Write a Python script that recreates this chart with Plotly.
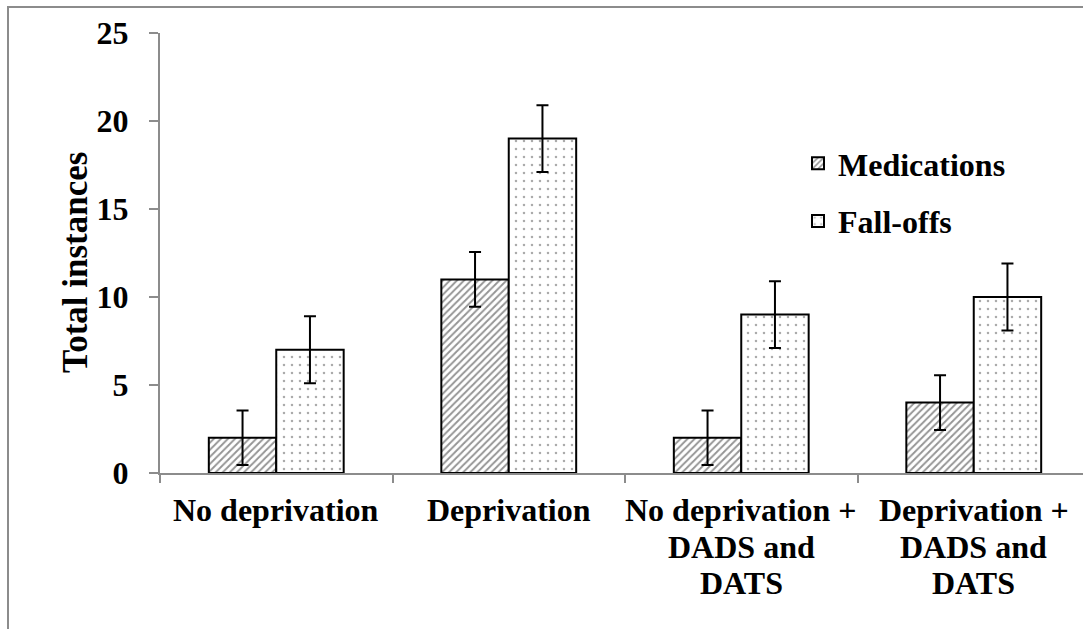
import plotly.graph_objects as go

categories = ["No deprivation", "Deprivation", "No deprivation +<br>DADS and<br>DATS", "Deprivation +<br>DADS and<br>DATS"]
medications = [2, 11, 2, 4]
medications_err = [1.55, 1.55, 1.55, 1.55]
falloffs = [7, 19, 9, 10]
falloffs_err = [1.9, 1.9, 1.9, 1.9]
y_ticks = [0, 5, 10, 15, 20, 25]

W, H = 1083, 629
L, R, T, B = 160, 1083, 33, 473  # plot area pixels


def px(x):
    return (x - L) / (R - L)


def py(y):
    return (B - y) / (B - T)


FONT = "Liberation Serif"
FS = 32

fig = go.Figure()
fig.add_trace(go.Bar(
    name="<b>Medications</b>", x=list(range(len(categories))), y=medications,
    error_y=dict(type="data", array=medications_err, color="black", thickness=2, width=6),
    marker=dict(color="white", line=dict(color="black", width=2),
                pattern=dict(shape="/", fgcolor="#2a2a2a", bgcolor="white", size=5, solidity=0.38)),
    legendgroup="a",
))
fig.add_trace(go.Bar(
    name="<b>Fall-offs</b>", x=list(range(len(categories))), y=falloffs,
    error_y=dict(type="data", array=falloffs_err, color="black", thickness=2, width=6),
    marker=dict(color="white", line=dict(color="black", width=2),
                pattern=dict(shape=".", fgcolor="#555555", bgcolor="white", size=8, solidity=0.08)),
    legendgroup="b",
))

fig.add_shape(type="rect", xref="paper", yref="paper",
              x0=px(8), x1=px(1095), y0=py(640), y1=py(7),
              line=dict(color="#8c8c8c", width=2), layer="below")

# x category labels, one annotation per line
line_centers = [510, 547, 583]
for i, cat in enumerate(categories):
    for j, line in enumerate(cat.split("<br>")):
        fig.add_annotation(x=i, xref="x", y=py(line_centers[j]), yref="paper",
                           text="<b>%s</b>" % line, showarrow=False,
                           xanchor="center", yanchor="middle",
                           font=dict(family=FONT, size=FS, color="black"))

# y-axis title
fig.add_annotation(x=px(75), xref="paper", y=py(263), yref="paper",
                   text="<b>Total instances</b>", textangle=-90, showarrow=False,
                   xanchor="center", yanchor="middle",
                   font=dict(family=FONT, size=35, color="black"))

fig.update_layout(
    width=W, height=H,
    margin=dict(l=L, r=W - R, t=T, b=H - B, pad=0),
    paper_bgcolor="white", plot_bgcolor="white",
    barmode="group", bargap=0.42, bargroupgap=0,
    font=dict(family=FONT, size=FS, color="black"),
    showlegend=True,
    legend=dict(x=px(798), y=py(136), xanchor="left", yanchor="top",
                font=dict(family=FONT, size=FS, color="black"),
                bgcolor="rgba(0,0,0,0)", traceorder="grouped", tracegroupgap=13,
                itemwidth=30),
    xaxis=dict(
        range=[-0.5, 3.5 - 7 / 232.5],
        showline=True, linecolor="#8c8c8c", linewidth=2,
        ticks="outside", ticklen=8, tickcolor="#8c8c8c", tickwidth=2,
        tickvals=[-0.5, 0.5, 1.5, 2.5], showticklabels=False,
        showgrid=False, zeroline=False,
    ),
    yaxis=dict(
        range=[0, 25], tickvals=y_ticks,
        ticktext=["<b>%d</b>" % v for v in y_ticks],
        showline=True, linecolor="#8c8c8c", linewidth=2,
        ticks="outside", ticklen=9, tickcolor="#8c8c8c", tickwidth=2,
        ticklabelstandoff=14,
        tickfont=dict(family=FONT, size=FS, color="black"),
        showgrid=False, zeroline=False,
    ),
)

fig.write_html("out.html")
